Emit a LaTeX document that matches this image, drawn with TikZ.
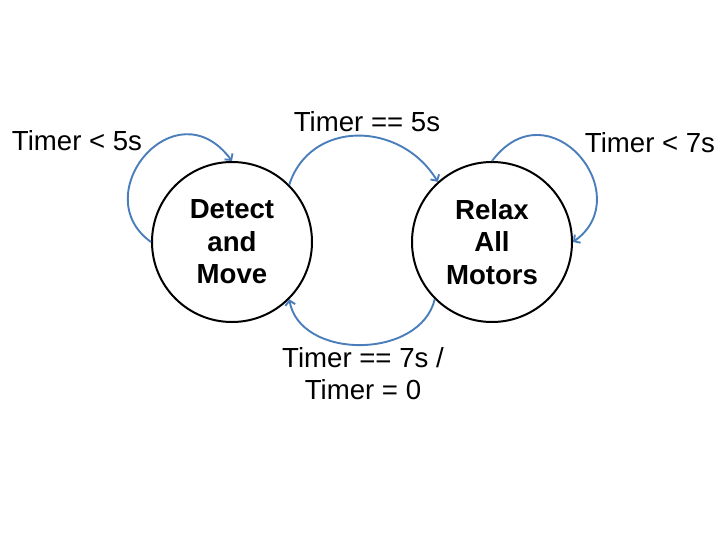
\documentclass[tikz,border=0pt]{standalone}
\usepackage{fontspec}
\setmainfont{Liberation Sans}
\usetikzlibrary{arrows.meta}
\definecolor{arrowblue}{RGB}{74,126,187}
\begin{document}
\begin{tikzpicture}[x=1pt,y=-1pt,
  state/.style={circle,draw=black,line width=2pt,minimum size=160pt,inner sep=0pt,
    align=center,font=\fontsize{27.6}{32.5}\selectfont\bfseries},
  lbl/.style={font=\fontsize{27.6}{32}\selectfont,inner sep=0pt},
  conn/.style={draw=arrowblue,line width=1.9pt,-{Straight Barb[length=4.5pt,width=10pt,line width=1.9pt]}}]
\path[use as bounding box] (0,0) rectangle (720,540);
\node[state] (L) at (232,242) {Detect\\and\\Move};
\node[state] (R) at (492,242) {Relax\\All\\Motors};
\node[lbl,anchor=base] (l1) at (77,151) {Timer < 5s};
\node[lbl,anchor=base] (l2) at (367,132) {Timer == 5s};
\node[lbl,anchor=base] (l3) at (650,153) {Timer < 7s};
\node[lbl,align=center] (l4) at (363,374) {Timer == 7s /\\Timer = 0};
\draw[conn] (L.west) .. controls (85,195) and (175,85) .. (L.north);
\draw[conn] (L.45) .. controls (310,120) and (400,120) .. (R.132);
\draw[conn] (R.north) .. controls (549,85) and (639,195) .. (R.east);
\draw[conn] (R.225) .. controls (420,360) and (300,360) .. (L.315);
\end{tikzpicture}
\end{document}
